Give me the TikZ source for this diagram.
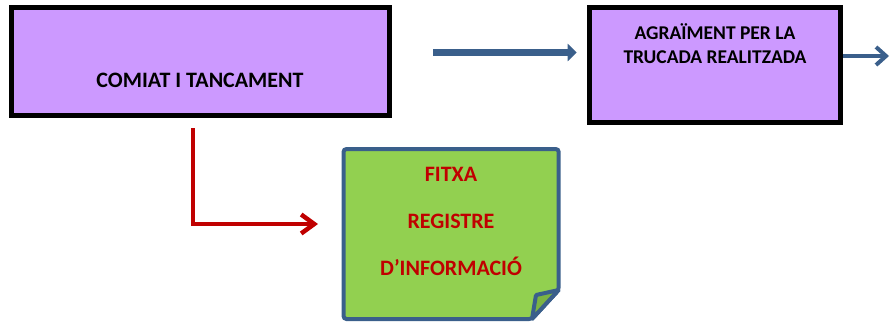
\documentclass[tikz,border=0pt]{standalone}
\usepackage{fontspec}
\setmainfont{Carlito}
\usetikzlibrary{arrows.meta}
\usepackage{xcolor}
\definecolor{lila}{HTML}{CC99FF}
\definecolor{verd}{HTML}{92D050}
\definecolor{verdfosc}{HTML}{7CB342}
\definecolor{blau}{HTML}{3A5F8B}
\definecolor{vermell}{HTML}{C00000}
\tikzset{
    caixa/.style={
        draw=black,
        line width=5pt,
        fill=lila,
        inner sep=0mm
    },
    rotul/.style={
        font=\bfseries\fontsize{19.5}{24}\selectfont,
        align=center,
        inner sep=0mm
    },
    nota/.style={
        draw=blau,
        line width=4pt,
        fill=verd,
        rounded corners=3pt
    }
}

\begin{document}
\begin{tikzpicture}[x=1pt,y=-1pt]
        \useasboundingbox (0,0) rectangle (890,322);
        % draw the two boxes
        \node[caixa,minimum width=377.7pt,minimum height=108pt] (comiat) at (200.3,61.5) {};
        \node[rotul,font=\bfseries\fontsize{22}{24}\selectfont] (comiattxt) at (200,80) {COMIAT I TANCAMENT};
        \node[caixa,minimum width=251.6pt,minimum height=115.3pt] (agraiment) at (715,64.8) {};
        \node[rotul] (agraimenttxt) at (715,44) {AGRAÏMENT PER LA\\TRUCADA REALITZADA};
        % draw blue arrows
        \coordinate (blauinici) at (433,52.5);
        \draw[blau,line width=7pt,-{Triangle[length=9pt,width=17pt]}]
            (blauinici) -- ([xshift=-10pt]agraiment.west |- blauinici);
        \coordinate (sortida) at (889,56);
        \draw[blau,line width=4pt,-{Straight Barb[length=10pt,width=18pt]}]
            (agraiment.east |- sortida) -- (sortida);
        % draw the note with folded corner
        \draw[nota] (343.5,149) -- (558.7,149) -- (558.7,290) -- (532,319) -- (343.5,319) -- cycle;
        \draw[nota,fill=verdfosc,rounded corners=1pt] (558.7,290) -- (536,295) -- (532,319) -- cycle;
        \node[rotul,text=vermell,font=\bfseries\fontsize{22}{47}\selectfont] (fitxa) at (451,221)
            {FITXA\\REGISTRE\\D’INFORMACIÓ};
        % draw red elbow arrow
        \coordinate (vermellinici) at (193,128);
        \coordinate (vermellfi) at (318,224);
        \draw[vermell,line width=4.5pt,-{Straight Barb[length=13pt,width=19pt]}]
            (vermellinici) |- (vermellfi);
\end{tikzpicture}
\end{document}
